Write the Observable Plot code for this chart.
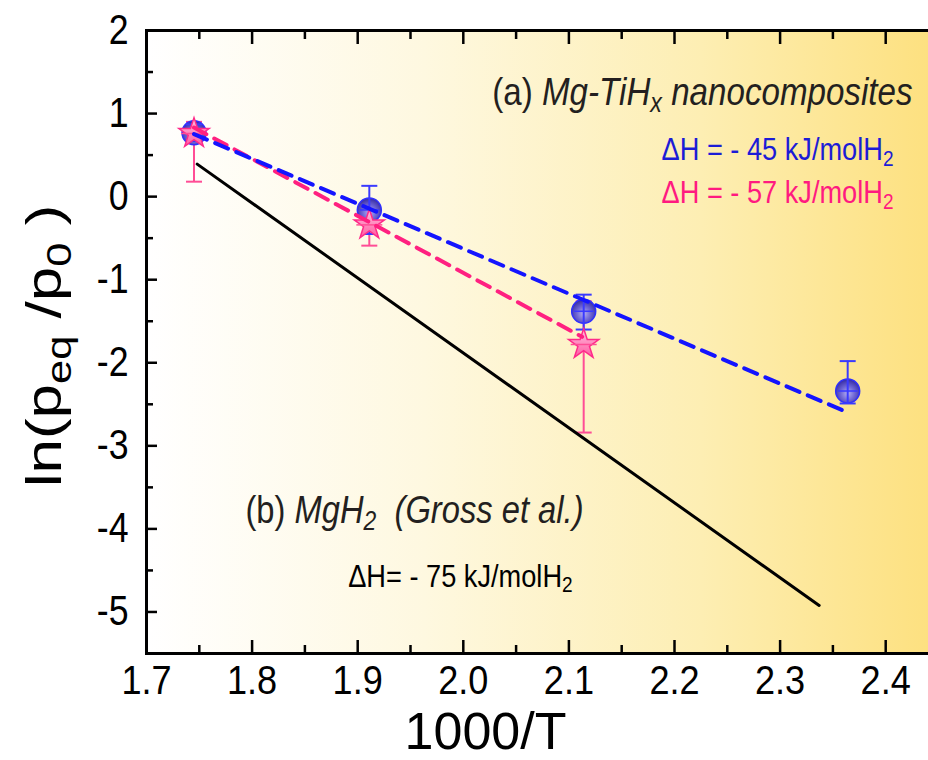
<!DOCTYPE html>
<html>
<head>
<meta charset="utf-8">
<script src="https://cdn.jsdelivr.net/npm/d3@7"></script>
<script src="https://cdn.jsdelivr.net/npm/@observablehq/plot@0.6"></script>
<style>
  body { margin: 0; background: #fff; }
</style>
</head>
<body>
<div id="chart"></div>
<script>
// 1000/T (K^-1) of the measurement temperatures
const invTBlue = [1.745, 1.911, 2.114, 2.364];
const lnBlue   = [0.77, -0.16, -1.38, -2.34];
const blueLow  = [0.67, -0.45, -1.60, -2.49];
const blueHigh = [0.87,  0.13, -1.18, -1.98];

const invTPink = [1.745, 1.911, 2.114];
const lnPink   = [0.76, -0.34, -1.78];
const pinkLow  = [0.18, -0.59, -2.84];
const pinkHigh = [0.90, -0.10, -1.26];

// van 't Hoff lines: slope = ΔH / R, anchored on a point of each line
const fitSeries = ["Mg-TiHx (circles)", "Mg-TiHx (stars)", "MgH2 (Gross et al.)"];
const fitDH     = [-45, -57, -75];          // kJ/molH2
const fitXStart = [1.745, 1.745, 1.748];
const fitXEnd   = [2.365, 2.1125, 2.337];
const fitXMid   = [2.055, 1.929, 2.0425];
const fitYMid   = [-0.925, -0.43, -2.265];
const R = 8.314;                             // J/(mol K)

const xMajor = [1.7, 1.8, 1.9, 2.0, 2.1, 2.2, 2.3, 2.4];
const xMinor = [1.75, 1.85, 1.95, 2.05, 2.15, 2.25, 2.35, 2.45];
const yMajor = [2, 1, 0, -1, -2, -3, -4, -5];
const yMinor = [1.5, 0.5, -0.5, -1.5, -2.5, -3.5, -4.5];

const xTitle = "1000/T";
const yTitleParts = [["ln(p", ""], ["eq", "sub"], [" /p", ""], ["0", "sub"], [" )", ""]];
const noteA  = [["(a) ", ""], ["Mg-TiH", "i"], ["x", "i sub"], [" nanocomposites", "i"]];
const noteB  = [["(b) ", ""], ["MgH", "i"], ["2", "i sub"], ["  (Gross et al.)", "i"]];
const dhText = (v) => [[`ΔH = - ${Math.abs(v)} kJ/molH`, ""], ["2", "sub"]];
const dhTextB = (v) => [[`ΔH= - ${Math.abs(v)} kJ/molH`, ""], ["2", "sub"]];

const blueRows = invTBlue.map((x, i) => ({x, y: lnBlue[i], lo: blueLow[i], hi: blueHigh[i]}));
const pinkRows = invTPink.map((x, i) => ({x, y: lnPink[i], lo: pinkLow[i], hi: pinkHigh[i]}));
const fitRows = fitSeries.flatMap((s, i) => {
  const slope = fitDH[i] / R;
  return [fitXStart[i], fitXEnd[i]].map(x => ({series: s, x, y: fitYMid[i] + slope * (x - fitXMid[i])}));
});
const fitOf = (i) => fitRows.filter(d => d.series === fitSeries[i]);

const plain = (parts) => parts.map(p => p[0]).join("");

// horizontal bar used for error-bar caps and x error bars
const hbar = {draw(ctx, size) { const r = Math.sqrt(size / Math.PI); ctx.moveTo(-r, 0); ctx.lineTo(r, 0); }};

const FONT = "'Liberation Sans', Arial, sans-serif";
const BLUE = "#1414ff", PINK = "#ff2080";

const chart = Plot.plot({
  width: 928,
  height: 760,
  marginLeft: 146,
  marginRight: -10,
  marginTop: 30,
  marginBottom: 107,
  x: {domain: [1.7, 2.45]},
  y: {domain: [-5.5, 2]},
  style: {fontFamily: FONT, color: "#000", background: "white", overflow: "hidden"},
  marks: [
    Plot.frame({fill: "url(#bgGrad)"}),

    // pink error bars (below the spheres)
    Plot.ruleX(pinkRows, {x: "x", y1: "lo", y2: "hi", stroke: "#ff4d96", strokeWidth: 2}),
    Plot.dot(pinkRows, {x: "x", y: "lo", symbol: hbar, r: 8, stroke: "#ff4d96", strokeWidth: 2}),
    Plot.dot(pinkRows, {x: "x", y: "hi", symbol: hbar, r: 8, stroke: "#ff4d96", strokeWidth: 2}),

    // blue spheres with their error bars
    Plot.dot(blueRows, {x: "x", y: "y", r: 12, fill: "url(#sphereGrad)", stroke: "#2f2fff", strokeWidth: 1.5}),
    Plot.ruleX(blueRows, {x: "x", y1: "lo", y2: "hi", stroke: "#3a3aff", strokeWidth: 2}),
    Plot.dot(blueRows, {x: "x", y: "lo", symbol: hbar, r: 8, stroke: "#3a3aff", strokeWidth: 2}),
    Plot.dot(blueRows, {x: "x", y: "hi", symbol: hbar, r: 8, stroke: "#3a3aff", strokeWidth: 2}),
    Plot.dot(blueRows, {x: "x", y: "y", symbol: hbar, r: 10, stroke: "#3a3aff", strokeWidth: 1.5}),

    // pink stars
    Plot.dot(pinkRows, {x: "x", y: "y", symbol: "star", r: 9.5, fill: "url(#starGrad)", stroke: "#ff2a8a", strokeWidth: 1.5}),
    Plot.dot(pinkRows, {x: "x", y: "y", symbol: hbar, r: 13, stroke: "#ff4d96", strokeWidth: 1.5}),

    // van 't Hoff lines
    Plot.line(fitOf(2), {x: "x", y: "y", stroke: "#000", strokeWidth: 3}),
    Plot.line(fitOf(1), {x: "x", y: "y", stroke: PINK, strokeWidth: 4, strokeDasharray: "14,9"}),
    Plot.line(fitOf(0), {x: "x", y: "y", stroke: BLUE, strokeWidth: 4, strokeDasharray: "14,9"}),

    // annotations
    Plot.text([plain(noteA)], {x: 2.4254, y: 1.255, textAnchor: "end", fontSize: 39, fill: "#231f20", className: "note-a"}),
    Plot.text([plain(dhText(fitDH[0]))], {x: 2.4074, y: 0.56, textAnchor: "end", fontSize: 32, fill: "#1c1cd6", className: "note-blue"}),
    Plot.text([plain(dhText(fitDH[1]))], {x: 2.4074, y: 0.045, textAnchor: "end", fontSize: 32, fill: "#ff1a80", className: "note-pink"}),
    Plot.text([plain(noteB)], {x: 1.7937, y: -3.78, textAnchor: "start", fontSize: 38.5, fill: "#231f20", className: "note-b"}),
    Plot.text([plain(dhTextB(fitDH[2]))], {x: 1.891, y: -4.57, textAnchor: "start", fontSize: 32, fill: "#000", className: "note-black"}),

    // axes: inward ticks on all four sides
    Plot.axisX({ticks: xMajor, anchor: "bottom", tickSize: -13, tickPadding: 24, tickFormat: d3.format(".1f"), fontSize: 41, strokeWidth: 2.5, label: null}),
    Plot.axisX({ticks: xMinor, anchor: "bottom", tickSize: -8, tickFormat: () => "", strokeWidth: 2.5, label: null}),
    Plot.axisX({ticks: xMajor, anchor: "top", tickSize: -13, tickFormat: () => "", strokeWidth: 2.5, label: null}),
    Plot.axisX({ticks: xMinor, anchor: "top", tickSize: -8, tickFormat: () => "", strokeWidth: 2.5, label: null}),
    Plot.axisY({ticks: yMajor, anchor: "left", tickSize: -11, tickPadding: 29, tickFormat: d => String(d), fontSize: 42, strokeWidth: 2.5, label: null}),
    Plot.axisY({ticks: yMinor, anchor: "left", tickSize: -7, tickFormat: () => "", strokeWidth: 2.5, label: null}),
    Plot.axisY({ticks: yMajor, anchor: "right", tickSize: -11, tickFormat: () => "", strokeWidth: 2.5, label: null}),
    Plot.axisY({ticks: yMinor, anchor: "right", tickSize: -7, tickFormat: () => "", strokeWidth: 2.5, label: null}),
    Plot.frame({stroke: "#000", strokeWidth: 3}),

    // axis titles
    Plot.text([xTitle], {frameAnchor: "bottom", lineAnchor: "middle", textAnchor: "middle", dy: 79, dx: -57, fontSize: 52, className: "xtitle"}),
    Plot.text([plain(yTitleParts)], {frameAnchor: "left", lineAnchor: "middle", textAnchor: "middle", rotate: -90, dx: -101, dy: 4, fontSize: 62, className: "ytitle"})
  ]
});

// gradients used by the background and the markers
const defs = d3.select(chart).insert("defs", ":first-child");
const bg = defs.append("linearGradient").attr("id", "bgGrad").attr("x1", "0").attr("x2", "1").attr("y1", "0").attr("y2", "0");
[[0, "#ffffff"], [0.35, "#fef8e0"], [0.7, "#fdeeb3"], [1, "#fde07e"]].forEach(([o, c]) => bg.append("stop").attr("offset", o).attr("stop-color", c));
const sp = defs.append("radialGradient").attr("id", "sphereGrad").attr("cx", "0.5").attr("cy", "0.6").attr("r", "0.6");
[[0, "#b4aef2"], [0.5, "#6d64d4"], [1, "#3328a0"]].forEach(([o, c]) => sp.append("stop").attr("offset", o).attr("stop-color", c));
const st = defs.append("linearGradient").attr("id", "starGrad").attr("x1", "0").attr("x2", "0").attr("y1", "0").attr("y2", "1");
[[0, "#ffc2de"], [1, "#ff5aa2"]].forEach(([o, c]) => st.append("stop").attr("offset", o).attr("stop-color", c));

// rebuild annotation texts with italics and subscripts
function setRich(cls, parts, shift) {
  const t = chart.querySelector(`g.${cls} text`);
  if (!t) return;
  t.textContent = "";
  let down = false;
  for (const [s, kind] of parts) {
    const ts = document.createElementNS("http://www.w3.org/2000/svg", "tspan");
    ts.textContent = s;
    if (kind.includes("i")) ts.setAttribute("font-style", "italic");
    const sub = kind.includes("sub");
    if (sub) ts.setAttribute("font-size", "70%");
    if (sub !== down) { ts.setAttribute("dy", sub ? shift : -shift); down = sub; }
    t.appendChild(ts);
  }
}
setRich("note-a", noteA, 7);
setRich("note-b", noteB, 7);
setRich("note-blue", dhText(fitDH[0]), 6);
setRich("note-pink", dhText(fitDH[1]), 6);
setRich("note-black", dhTextB(fitDH[2]), 6);
setRich("ytitle", yTitleParts, 12);

// condensed lettering: squeeze text horizontally around its anchor
function squeeze(selector, k) {
  chart.querySelectorAll(selector).forEach(el => {
    const tr = el.getAttribute("transform") || "";
    if (/rotate\(\s*-?90/.test(tr)) el.setAttribute("transform", `${tr} scale(1,${k})`);
    else el.setAttribute("transform", `${tr} scale(${k},1)`);
  });
}
squeeze('g[aria-label="x-axis tick label"] text', 0.88);
squeeze('g[aria-label="y-axis tick label"] text', 0.85);
squeeze("g.note-a text, g.note-b text, g.note-blue text, g.note-pink text, g.note-black text", 0.85);
squeeze("g.ytitle text", 0.8);

document.getElementById("chart").appendChild(chart);
</script>
</body>
</html>
